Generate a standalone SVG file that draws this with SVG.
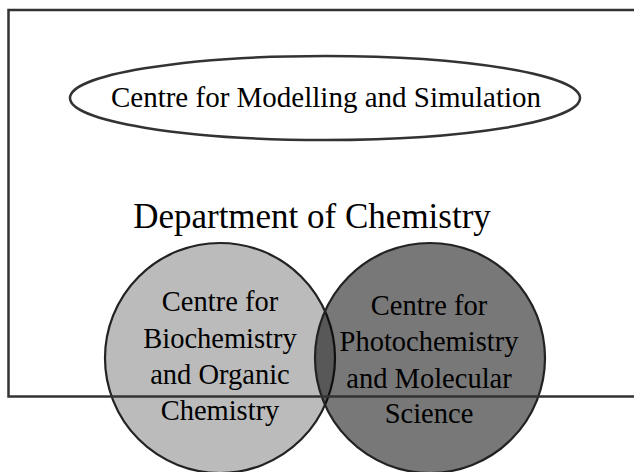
<svg xmlns="http://www.w3.org/2000/svg" width="634" height="472" viewBox="0 0 634 472">
<style>
text{font-family:"Liberation Serif","Times New Roman",serif;fill:#000;text-anchor:middle}
.lbl{font-size:28.5px}
.line{fill:none;stroke:#333;stroke-width:2.5}
.circ{stroke:#222;stroke-width:2.2}
</style>
<rect x="0" y="0" width="634" height="472" fill="#fff"/>
<g id="centre-biochemistry">
<circle class="circ" cx="220" cy="358" r="115" fill="#bbbbbb"/>
</g>
<g id="centre-photochemistry">
<circle cx="430" cy="358" r="115" fill="#000" fill-opacity="0.53"/>
<circle cx="430" cy="358" r="115" fill="none" stroke="#222" stroke-width="2.2"/>
</g>
<g id="department-of-chemistry">
<rect class="line" x="8.5" y="10" width="640" height="386.5"/>
<text x="312" y="228" style="font-size:35px">Department of Chemistry</text>
</g>
<g id="centre-modelling">
<ellipse class="line" cx="325" cy="98" rx="255" ry="42"/>
<text x="326" y="107" style="font-size:29px">Centre for Modelling and Simulation</text>
</g>
<g id="labels">
<text class="lbl" x="220" y="311">Centre for</text>
<text class="lbl" x="220" y="348">Biochemistry</text>
<text class="lbl" x="220" y="384">and Organic</text>
<text class="lbl" x="220" y="420">Chemistry</text>
<text class="lbl" x="429" y="315">Centre for</text>
<text class="lbl" x="429" y="351">Photochemistry</text>
<text class="lbl" x="429" y="388">and Molecular</text>
<text class="lbl" x="429" y="423">Science</text>
</g>
<g id="connectors"></g>
</svg>
